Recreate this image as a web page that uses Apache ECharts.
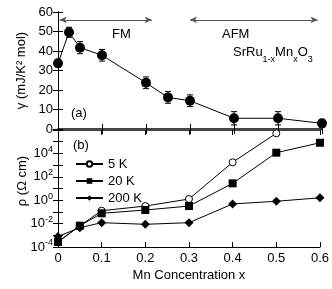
<!DOCTYPE html>
<html><head><meta charset="utf-8">
<script src="https://cdn.jsdelivr.net/npm/echarts@6/dist/echarts.min.js"></script>
<style>html,body{margin:0;padding:0;background:#fff}#c{width:332px;height:289px}</style>
</head><body><div id="c"></div>
<script>
// ---- data ----
var gammaX = [0, 0.025, 0.05, 0.1, 0.2, 0.25, 0.3, 0.4, 0.5, 0.6];
var gammaY = [33.7, 49.6, 41.7, 37.8, 23.7, 16.2, 14.5, 5.5, 5.5, 2.9];
var gammaErr = [2, 2.6, 3.1, 3, 3, 3, 3, 3.4, 3.4, 2];
var rhoX = [0, 0.05, 0.1, 0.2, 0.3, 0.4, 0.5, 0.6];
var rho5K = [2.7e-4, 6.6e-3, 0.126, 0.316, 1.26, 1740, 5.2e5];
var rho20K = [2.7e-4, 6.6e-3, 0.076, 0.145, 0.316, 27.5, 1.15e4, 8.1e4];
var rho200K = [7.9e-4, 4.5e-3, 0.012, 8.7e-3, 0.012, 0.48, 0.81, 1.6];
var seriesNames = ['5 K', '20 K', '200 K'];
var xTicks = ['0', '0.1', '0.2', '0.3', '0.4', '0.5', '0.6'];
var fmRange = [0.004, 0.213];
var afmRange = [0.3, 0.59];
var arrowLevel = 56;

function pairs(xs, ys) { var o = []; for (var i = 0; i < ys.length; i++) o.push([xs[i], ys[i]]); return o; }

var FONT = 'Liberation Sans';
var tickStyle = { inside: true, length: 5, lineStyle: { color: '#000', width: 1 } };
function xAx(grid, pos, labels, lineW, lineColor, name) {
  return {
    type: 'value', gridIndex: grid, position: pos, min: 0, max: 0.6, interval: 0.1,
    axisLine: { show: true, lineStyle: { color: lineColor || '#000', width: lineW || 1 } },
    axisTick: tickStyle, splitLine: { show: false },
    axisLabel: labels ? { show: true, margin: 5, color: '#000', fontFamily: FONT, fontSize: 13,
      formatter: function (v) { var i = Math.round(v * 10); return xTicks[i]; } } : { show: false },
    name: name || '', nameLocation: 'middle', nameGap: 22,
    nameTextStyle: { color: '#000', fontFamily: FONT, fontSize: 13 }
  };
}
var sup = { fontSize: 9, fontFamily: FONT, color: '#000', verticalAlign: 'top', padding: [0, 0, 8, 0] };
var base = { fontSize: 13, fontFamily: FONT, color: '#000' };

var option = {
  animation: false,
  backgroundColor: '#fff',
  grid: [
    { left: 58, top: 12, width: 264, height: 117 },
    { left: 58, top: 130, width: 264, height: 117 }
  ],
  xAxis: [
    xAx(0, 'bottom', false, 2, '#444'),
    xAx(0, 'top', false),
    xAx(1, 'bottom', true, 1, '#000', 'Mn Concentration x'),
    xAx(1, 'top', false, 2, '#444')
  ],
  yAxis: [
    { type: 'value', gridIndex: 0, position: 'left', min: 0, max: 60, interval: 10,
      axisLine: { show: true, lineStyle: { color: '#000' } }, axisTick: tickStyle, splitLine: { show: false },
      axisLabel: { margin: 5, color: '#000', fontFamily: FONT, fontSize: 13 },
      name: 'γ (mJ/K² mol)', nameLocation: 'middle', nameGap: 23, nameRotate: 90,
      nameTextStyle: { color: '#000', fontFamily: FONT, fontSize: 13 } },
    { type: 'value', gridIndex: 0, position: 'right', min: 0, max: 60, interval: 10,
      axisLine: { show: true, lineStyle: { color: '#000' } }, axisTick: tickStyle, splitLine: { show: false },
      axisLabel: { show: false } },
    { type: 'log', logBase: 10, gridIndex: 1, position: 'left', min: 1e-4, max: 1e6, interval: 1,
      axisLine: { show: true, lineStyle: { color: '#000' } }, axisTick: tickStyle, splitLine: { show: false },
      minorTick: { show: false },
      axisLabel: { margin: 5, color: '#000', fontFamily: FONT, fontSize: 13, rich: { b: base, s: sup },
        formatter: function (v) { var e = Math.round(Math.log(v) / Math.LN10);
          if (e % 2 !== 0 || e > 4) return ''; return '{b|10}{s|' + e + '}'; } } },
    { type: 'log', logBase: 10, gridIndex: 1, position: 'right', min: 1e-4, max: 1e6, interval: 1,
      axisLine: { show: true, lineStyle: { color: '#000' } }, axisTick: tickStyle, splitLine: { show: false },
      axisLabel: { show: false } }
  ],
  legend: {
    orient: 'vertical', left: 70, top: 152, itemWidth: 27, itemHeight: 7, itemGap: 3,
    data: seriesNames,
    textStyle: { color: '#000', fontFamily: FONT, fontSize: 13, lineHeight: 14 }
  },
  graphic: [
    { type: 'text', left: 112, top: 28, style: { text: 'FM', font: '13px "' + FONT + '"', fill: '#000' } },
    { type: 'text', left: 222, top: 28, style: { text: 'AFM', font: '13px "' + FONT + '"', fill: '#000' } },
    { type: 'text', left: 71, top: 107, style: { text: '(a)', font: '13px "' + FONT + '"', fill: '#000' } },
    { type: 'text', left: 73, top: 139, style: { text: '(b)', font: '13px "' + FONT + '"', fill: '#000' } },
    { type: 'text', left: 233, top: 46, style: {
        text: '{m|SrRu}{s|1-x}{m|Mn}{s|x}{m|O}{s|3}',
        rich: { m: { fontSize: 13, fontFamily: FONT, color: '#000', lineHeight: 24, verticalAlign: 'middle' },
                s: { fontSize: 9, fontFamily: FONT, color: '#000', lineHeight: 24, verticalAlign: 'bottom' } } } },
    { type: 'text', rotation: Math.PI / 2, x: 16, y: 181, style: {
        text: 'ρ (Ω cm)', font: '13px "' + FONT + '"', fill: '#000', align: 'center', verticalAlign: 'top' } }
  ],
  series: [
    { name: 'gamma', type: 'line', xAxisIndex: 0, yAxisIndex: 0, data: pairs(gammaX, gammaY),
      symbol: 'circle', symbolSize: 10, clip: false, z: 3,
      itemStyle: { color: '#000' }, lineStyle: { color: '#000', width: 1 },
      markLine: { silent: true, symbol: ['arrow', 'arrow'], symbolSize: [5, 7], label: { show: false },
        lineStyle: { color: '#555', width: 1, type: 'solid' },
        data: [
          [{ coord: [fmRange[0], arrowLevel] }, { coord: [fmRange[1], arrowLevel] }],
          [{ coord: [afmRange[0], arrowLevel] }, { coord: [afmRange[1], arrowLevel] }]
        ] } },
    { name: 'err', type: 'custom', xAxisIndex: 0, yAxisIndex: 0, clip: false, z: 2,
      data: gammaX.map(function (x, i) { return [x, gammaY[i] - gammaErr[i], gammaY[i] + gammaErr[i]]; }),
      renderItem: function (params, api) {
        var lo = api.coord([api.value(0), api.value(1)]);
        var hi = api.coord([api.value(0), api.value(2)]);
        var w = 3;
        var st = { stroke: '#000', lineWidth: 1 };
        return { type: 'group', children: [
          { type: 'line', shape: { x1: lo[0], y1: lo[1], x2: hi[0], y2: hi[1] }, style: st },
          { type: 'line', shape: { x1: lo[0] - w, y1: lo[1], x2: lo[0] + w, y2: lo[1] }, style: st },
          { type: 'line', shape: { x1: hi[0] - w, y1: hi[1], x2: hi[0] + w, y2: hi[1] }, style: st }
        ] };
      } },
    { name: seriesNames[0], type: 'line', xAxisIndex: 2, yAxisIndex: 2, data: pairs(rhoX, rho5K),
      symbol: 'circle', symbolSize: 7, clip: false, z: 2,
      itemStyle: { color: '#fff', borderColor: '#000', borderWidth: 1 }, lineStyle: { color: '#000', width: 1 } },
    { name: seriesNames[1], type: 'line', xAxisIndex: 2, yAxisIndex: 2, data: pairs(rhoX, rho20K),
      symbol: 'rect', symbolSize: 8, clip: false, z: 3,
      itemStyle: { color: '#000' }, lineStyle: { color: '#000', width: 1 } },
    { name: seriesNames[2], type: 'line', xAxisIndex: 2, yAxisIndex: 2, data: pairs(rhoX, rho200K),
      symbol: 'diamond', symbolSize: 9, clip: false, z: 3,
      itemStyle: { color: '#000' }, lineStyle: { color: '#000', width: 1 } }
  ]
};
var chart = echarts.init(document.getElementById('c'), null, { renderer: 'canvas' });
chart.setOption(option);
</script></body></html>
